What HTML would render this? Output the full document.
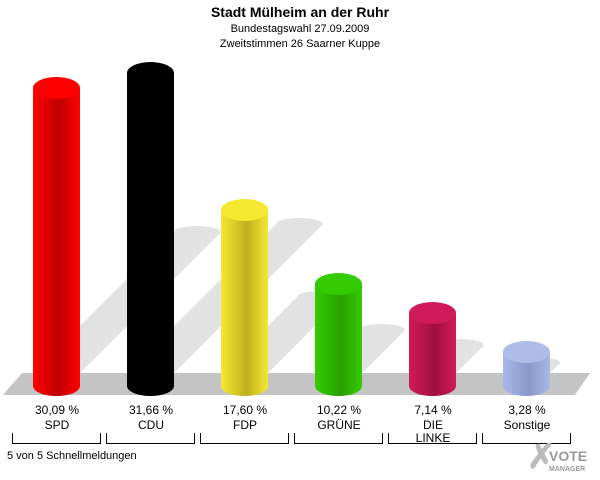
<!DOCTYPE html>
<html><head><style>
body{margin:0;background:#fff;}
svg{display:block;font-family:"Liberation Sans",sans-serif;}
</style></head><body>
<svg width="600" height="480" viewBox="0 0 600 480">
<defs>
<linearGradient id="r" x1="0" x2="1"><stop offset="0" stop-color="#ff0000"/><stop offset="0.55" stop-color="#c00000"/><stop offset="1" stop-color="#ff0000"/></linearGradient>
<linearGradient id="y" x1="0" x2="1"><stop offset="0" stop-color="#f5e830"/><stop offset="0.55" stop-color="#c0b020"/><stop offset="1" stop-color="#f5e830"/></linearGradient>
<linearGradient id="g" x1="0" x2="1"><stop offset="0" stop-color="#33cc00"/><stop offset="0.55" stop-color="#29a000"/><stop offset="1" stop-color="#33cc00"/></linearGradient>
<linearGradient id="m" x1="0" x2="1"><stop offset="0" stop-color="#d01a5a"/><stop offset="0.55" stop-color="#a01040"/><stop offset="1" stop-color="#d01a5a"/></linearGradient>
<linearGradient id="s" x1="0" x2="1"><stop offset="0" stop-color="#a8b8e8"/><stop offset="0.55" stop-color="#8898c8"/><stop offset="1" stop-color="#a8b8e8"/></linearGradient>
</defs>
<text x="300" y="17" text-anchor="middle" font-size="14" font-weight="bold">Stadt Mülheim an der Ruhr</text>
<text x="300" y="32" text-anchor="middle" font-size="11">Bundestagswahl 27.09.2009</text>
<text x="300" y="47" text-anchor="middle" font-size="11">Zweitstimmen 26 Saarner Kuppe</text>
<!-- shadows -->
<g fill="#e2e2e2">
<polygon points="33,373 80,373 221,232 174,232"/><ellipse cx="197.5" cy="232" rx="23.5" ry="6"/>
<polygon points="127,373 174,373 323,224 276,224"/><ellipse cx="299.5" cy="224" rx="23.5" ry="6"/>
<polygon points="221,373 268,373 344,297 297,297"/><ellipse cx="320.5" cy="297" rx="23.5" ry="6"/>
<polygon points="315,373 362,373 405,330 358,330"/><ellipse cx="381.5" cy="330" rx="23.5" ry="6"/>
<polygon points="409,373 456,373 484,345 437,345"/><ellipse cx="460.5" cy="345" rx="23.5" ry="6"/>
<polygon points="503,373 550,373 560,363 513,363"/><ellipse cx="536.5" cy="363" rx="23.5" ry="6"/>
</g>
<polygon points="22,373 590,373 575,395 3,395" fill="#c4c4c4"/>
<g>
<rect x="33" y="88" width="47" height="298" fill="url(#r)"/><ellipse cx="56.5" cy="386" rx="23.5" ry="10" fill="url(#r)"/><ellipse cx="56.5" cy="88" rx="23.5" ry="11" fill="#ff0000"/>
<rect x="127" y="73" width="47" height="313" fill="#000"/><ellipse cx="150.5" cy="386" rx="23.5" ry="10" fill="#000"/><ellipse cx="150.5" cy="73" rx="23.5" ry="11" fill="#000"/>
<rect x="221" y="210" width="47" height="176" fill="url(#y)"/><ellipse cx="244.5" cy="386" rx="23.5" ry="10" fill="url(#y)"/><ellipse cx="244.5" cy="210" rx="23.5" ry="11" fill="#f5e830"/>
<rect x="315" y="284" width="47" height="102" fill="url(#g)"/><ellipse cx="338.5" cy="386" rx="23.5" ry="10" fill="url(#g)"/><ellipse cx="338.5" cy="284" rx="23.5" ry="11" fill="#33cc00"/>
<rect x="409" y="313" width="47" height="73" fill="url(#m)"/><ellipse cx="432.5" cy="386" rx="23.5" ry="10" fill="url(#m)"/><ellipse cx="432.5" cy="313" rx="23.5" ry="11" fill="#d01a5a"/>
<rect x="503" y="352" width="47" height="34" fill="url(#s)"/><ellipse cx="526.5" cy="386" rx="23.5" ry="10" fill="url(#s)"/><ellipse cx="526.5" cy="352" rx="23.5" ry="11" fill="#aebde8"/>
</g>
<g font-size="12" text-anchor="middle">
<text x="57" y="414">30,09 %</text><text x="57" y="429">SPD</text>
<text x="151" y="414">31,66 %</text><text x="151" y="429">CDU</text>
<text x="245" y="414">17,60 %</text><text x="245" y="429">FDP</text>
<text x="339" y="414">10,22 %</text><text x="339" y="429">GRÜNE</text>
<text x="433" y="414">7,14 %</text><text x="433" y="429">DIE</text><text x="433" y="442">LINKE</text>
<text x="527" y="414">3,28 %</text><text x="527" y="429">Sonstige</text>
</g>
<g stroke="#000" stroke-width="1" fill="none">
<path d="M12.5,433v10.5h88v-10.5"/><path d="M106.5,433v10.5h88v-10.5"/><path d="M200.5,433v10.5h88v-10.5"/><path d="M294.5,433v10.5h88v-10.5"/><path d="M388.5,433v10.5h88v-10.5"/><path d="M482.5,433v10.5h88v-10.5"/>
</g>
<text x="7" y="459" font-size="11">5 von 5 Schnellmeldungen</text>
<text x="527" y="468" font-size="34" font-weight="bold" fill="#bbb">✗</text>
<text x="549" y="461" font-size="14" font-weight="bold" fill="#999">VOTE</text>
<text x="549" y="471" font-size="7" font-weight="bold" fill="#999">MANAGER</text>
</svg>
</body></html>
